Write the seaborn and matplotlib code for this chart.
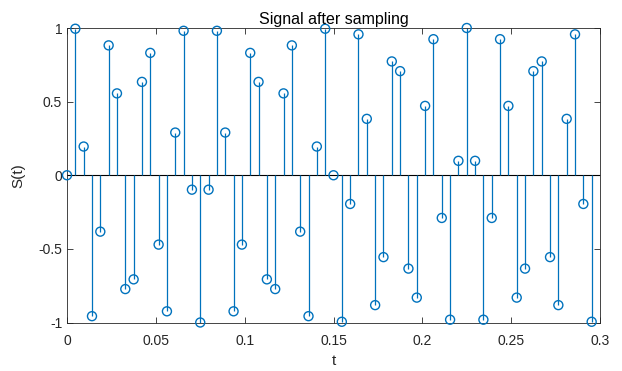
import numpy as np
import pandas as pd
import matplotlib
matplotlib.use("Agg")
import matplotlib.pyplot as plt
import seaborn as sns

dt = 0.3 / 64
s_values = [0.0, 0.995, 0.195, -0.957, -0.383, 0.882, 0.556, -0.773,
            -0.707, 0.634, 0.831, -0.471, -0.924, 0.290, 0.981, -0.098,
            -1.0, -0.098, 0.981, 0.290, -0.924, -0.471, 0.831, 0.634,
            -0.707, -0.773, 0.556, 0.882, -0.383, -0.957, 0.195, 0.995,
            0.0, -0.995, -0.195, 0.957, 0.383, -0.882, -0.556, 0.773,
            0.707, -0.634, -0.831, 0.471, 0.924, -0.290, -0.981, 0.098,
            1.0, 0.098, -0.981, -0.290, 0.924, 0.471, -0.831, -0.634,
            0.707, 0.773, -0.556, -0.882, 0.383, 0.957, -0.195, -0.995]
t_values = [i * dt for i in range(len(s_values))]
x_ticks = [0, 0.05, 0.1, 0.15, 0.2, 0.25, 0.3]
x_ticklabels = ["0", "0.05", "0.1", "0.15", "0.2", "0.25", "0.3"]
y_ticks = [-1, -0.5, 0, 0.5, 1]
y_ticklabels = ["-1", "-0.5", "0", "0.5", "1"]

df = pd.DataFrame({"t": t_values, "S": s_values})

sns.set_style("white")
plt.rcParams["font.family"] = ["Liberation Sans", "DejaVu Sans"]

blue = "#0072BD"
axc = "#262626"

fig = plt.figure(figsize=(6.22, 3.71), dpi=100)
ax = fig.add_axes([67 / 622, 48.5 / 371, 533 / 622, 294.5 / 371])

ax.vlines(df["t"], 0, df["S"], color=blue, linewidth=0.9, zorder=2)
ax.axhline(0, color="black", linewidth=0.8, zorder=1)
sns.scatterplot(data=df, x="t", y="S", ax=ax, marker="o", s=42,
                facecolor="none", edgecolor=blue, linewidth=1.0, zorder=3,
                clip_on=False)

ax.set_xlim(0, 0.3)
ax.set_ylim(-1, 1)
ax.set_xticks(x_ticks)
ax.set_xticklabels(x_ticklabels)
ax.set_yticks(y_ticks)
ax.set_yticklabels(y_ticklabels)
ax.tick_params(direction="in", length=4, width=0.6, colors=axc,
               labelsize=10, top=True, right=True, bottom=True, left=True,
               labelcolor=axc)
ax.tick_params(axis="x", pad=8.5)
ax.tick_params(axis="y", pad=3.5)
for sp in ax.spines.values():
    sp.set_color(axc)
    sp.set_linewidth(0.6)
    sp.set_visible(True)

ax.set_xlabel("t", fontsize=11, color=axc, labelpad=4)
ax.set_ylabel("S(t)", fontsize=11, color=axc, labelpad=9)
ax.set_title("Signal after sampling", fontsize=11.5, color="black", pad=3)

fig.savefig("out.png", dpi=100)
